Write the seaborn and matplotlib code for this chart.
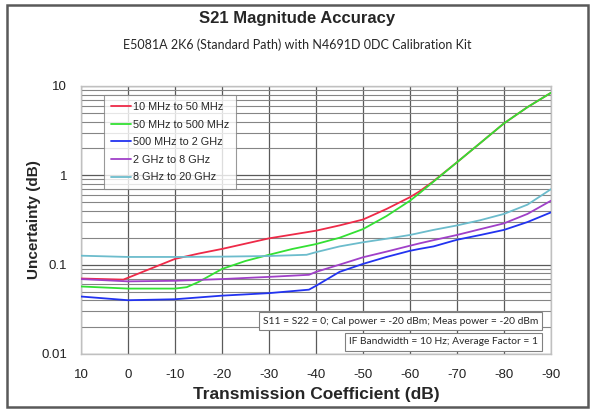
import numpy as np
import pandas as pd
import matplotlib
matplotlib.use("Agg")
import matplotlib.pyplot as plt
import seaborn as sns
from matplotlib.patches import Rectangle
from matplotlib.lines import Line2D
from matplotlib.ticker import FixedLocator, NullFormatter

# ---- data ----
series_names = ["10 MHz to 50 MHz", "50 MHz to 500 MHz", "500 MHz to 2 GHz",
                "2 GHz to 8 GHz", "8 GHz to 20 GHz"]
series_colors = ["#ee2a48", "#33e033", "#2233f0", "#a040c8", "#6cbccc"]

red_x = [10, 1, -10, -15, -20, -30, -40, -45, -50, -55, -60, -62, -65, -70, -75, -80, -85, -90]
red_y = [0.070, 0.068, 0.116, 0.133, 0.150, 0.197, 0.240, 0.275, 0.32, 0.42, 0.57, 0.66, 0.86, 1.40, 2.31, 3.82, 5.8, 8.4]

green_x = [10, 0, -10, -12.5, -15, -20, -25, -30, -35, -40, -45, -50, -55, -60, -62, -65, -70, -75, -80, -85, -90]
green_y = [0.057, 0.054, 0.054, 0.056, 0.064, 0.0895, 0.11, 0.129, 0.15, 0.17, 0.20, 0.25, 0.35, 0.52, 0.63, 0.85, 1.40, 2.31, 3.82, 5.8, 8.4]

blue_x = [10, 0, -10, -20, -30, -38.5, -40, -45, -50, -55, -60, -62, -65, -70, -75, -80, -85, -90]
blue_y = [0.044, 0.040, 0.041, 0.045, 0.048, 0.0525, 0.058, 0.083, 0.102, 0.122, 0.143, 0.150, 0.160, 0.190, 0.215, 0.245, 0.30, 0.385]

purple_x = [10, 0, -10, -20, -30, -38.5, -40, -45, -50, -55, -60, -62, -65, -70, -75, -80, -85, -90]
purple_y = [0.069, 0.065, 0.066, 0.069, 0.073, 0.077, 0.083, 0.10, 0.121, 0.14, 0.163, 0.173, 0.188, 0.215, 0.25, 0.29, 0.37, 0.52]

cyan_x = [10, 0, -10, -20, -30, -38, -40, -45, -50, -55, -60, -65, -70, -75, -80, -85, -90]
cyan_y = [0.126, 0.122, 0.122, 0.123, 0.125, 0.129, 0.138, 0.16, 0.178, 0.195, 0.215, 0.245, 0.275, 0.315, 0.37, 0.47, 0.70]

x_ticks = [10, 0, -10, -20, -30, -40, -50, -60, -70, -80, -90]
y_ticks = [0.01, 0.1, 1, 10]
y_tick_labels = ["0.01", "0.1", "1", "10"]

title = "S21 Magnitude Accuracy"
subtitle = "E5081A 2K6 (Standard Path) with N4691D 0DC Calibration Kit"
note1 = "S11 = S22 = 0; Cal power = -20 dBm; Meas power = -20 dBm"
note2 = "IF Bandwidth = 10 Hz; Average Factor = 1"

# ---- build long table ----
frames = []
for name, xs, ys in zip(series_names,
                        [red_x, green_x, blue_x, purple_x, cyan_x],
                        [red_y, green_y, blue_y, purple_y, cyan_y]):
    frames.append(pd.DataFrame({"x": xs, "y": ys, "series": name}))
df = pd.concat(frames, ignore_index=True)

sns.set_theme(style="white")
plt.rcParams["font.family"] = ["Liberation Sans", "DejaVu Sans"]

fig = plt.figure(figsize=(5.95, 4.13), dpi=100)
ax = fig.add_axes([81 / 595, 1 - 354 / 413, 470 / 595, 268 / 413])

sns.lineplot(data=df, x="x", y="y", hue="series", hue_order=series_names,
             palette=series_colors, sort=False, estimator=None, lw=1.3,
             legend=False, ax=ax, zorder=3)

ax.set_yscale("log")
ax.set_xlim(10, -90)
ax.set_ylim(0.01, 10)
ax.xaxis.set_major_locator(FixedLocator(x_ticks))
ax.set_xticklabels([str(t) for t in x_ticks])
ax.yaxis.set_major_locator(FixedLocator(y_ticks))
ax.set_yticklabels(y_tick_labels)
minor = [m * 10.0 ** e for e in (-2, -1, 0) for m in range(2, 10)]
ax.yaxis.set_minor_locator(FixedLocator(minor))
ax.yaxis.set_minor_formatter(NullFormatter())

ax.grid(True, which="major", axis="both", color="#5a5a5a", lw=0.9, zorder=0)
ax.grid(True, which="minor", axis="y", color="#858585", lw=0.8, zorder=0)
ax.tick_params(axis="both", which="both", length=0, labelsize=9.5, colors="#222222")
ax.tick_params(axis="x", pad=11)
ax.tick_params(axis="y", pad=10)
for sp in ax.spines.values():
    sp.set_color("#c0c0c0")
    sp.set_linewidth(1.0)

ax.set_xlabel("Transmission Coefficient (dB)", fontsize=12.5, fontweight="bold", labelpad=4)
ax.set_ylabel("Uncertainty (dB)", fontsize=11, fontweight="bold", labelpad=0)

# legend
handles = [Line2D([0], [0], color=c, lw=1.3) for c in series_colors]
leg = ax.legend(handles, series_names, loc="upper left",
                bbox_to_anchor=((104 - 81) / 470, 1 - (95 - 86) / 268),
                frameon=True, fancybox=False, fontsize=7.8, handlelength=1.8,
                handletextpad=0.2, labelspacing=0.7, borderpad=0.65,
                borderaxespad=0)
leg.get_frame().set_edgecolor("#808080")
leg.get_frame().set_linewidth(0.8)
leg.set_zorder(5)

# annotation boxes
box_kw = dict(boxstyle="square,pad=0.4", fc="white", ec="#808080", lw=0.8)
ax.text((542 - 81) / 470 - 0.008, 1 - (321 - 86) / 268, note1, transform=ax.transAxes,
        ha="right", va="center", fontsize=7.4, family=["Lato", "DejaVu Sans"],
        bbox=box_kw, zorder=6)
ax.text((542 - 81) / 470 - 0.008, 1 - (342 - 86) / 268, note2, transform=ax.transAxes,
        ha="right", va="center", fontsize=7.4, family=["Lato", "DejaVu Sans"],
        bbox=box_kw, zorder=6)

# titles
fig.text(0.5, 1 - 18 / 413, title, ha="center", va="center", fontsize=12, fontweight="bold")
fig.text(0.5, 1 - 45 / 413, subtitle, ha="center", va="center", fontsize=9,
         family=["Lato", "DejaVu Sans"])

# outer frame
fig.patches.append(Rectangle((7 / 595, 1 - 407 / 413), 581 / 595, 402 / 413,
                             transform=fig.transFigure, fill=False,
                             ec="#595959", lw=1.8))

fig.savefig("out.png", dpi=100)
